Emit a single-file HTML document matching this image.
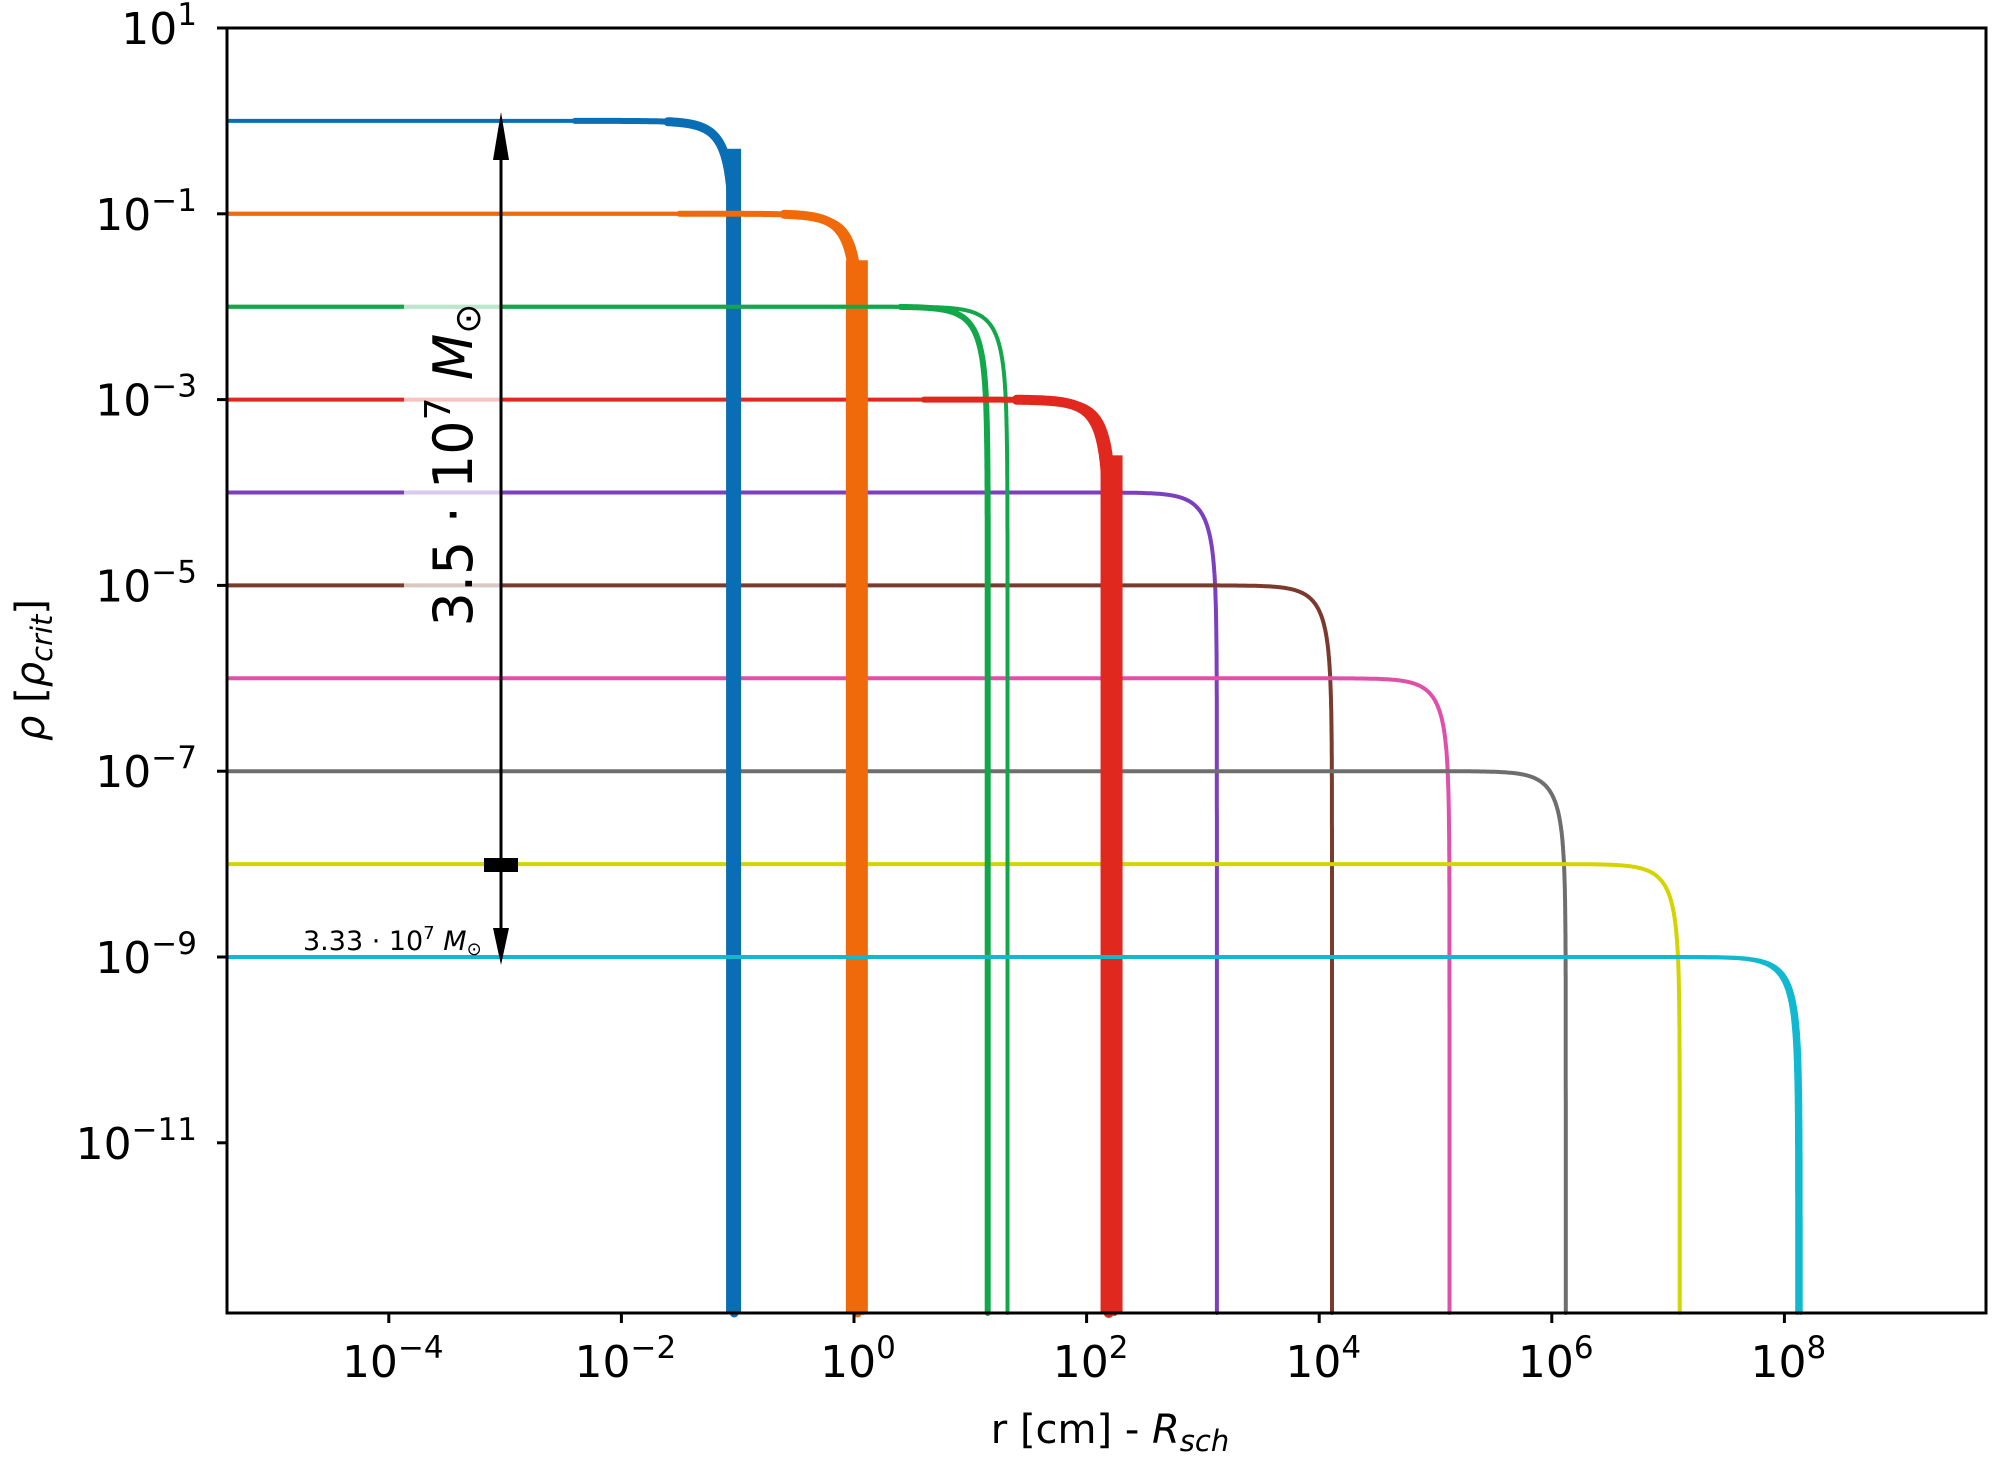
<!DOCTYPE html>
<html><head><meta charset="utf-8"><style>
html,body{margin:0;padding:0;background:#fff;}
svg{display:block;font-family:"DejaVu Sans","Liberation Sans",sans-serif;}
</style></head><body>
<svg id="s" width="1999" height="1459" viewBox="0 0 1999 1459" xmlns="http://www.w3.org/2000/svg">
<g id="curves"></g>
<rect x="404" y="300" width="96" height="350" fill="#fff" opacity="0.72"/>
<g id="axes"></g>
<line x1="501" y1="150" x2="501" y2="945" stroke="#000" stroke-width="3"/>
<polygon points="501,112 493,160 509,160" fill="#000"/>
<polygon points="501,965 493,928 509,928" fill="#000"/>
<rect x="484" y="858" width="34" height="14" fill="#000"/>
<text x="0" y="0" font-size="54" transform="translate(472,465) rotate(-90)" text-anchor="middle">3.5 · 10<tspan dy="-22" font-size="36">7</tspan><tspan dy="22" font-style="italic"> M</tspan><tspan font-size="36" dy="8">⊙</tspan></text>
<text x="303" y="950" font-size="27">3.33 · 10<tspan dy="-11" font-size="18">7</tspan><tspan dy="11" font-style="italic"> M</tspan><tspan font-size="18" dy="5">⊙</tspan></text>
<text x="1110" y="1443" font-size="40" text-anchor="middle">r [cm] - <tspan font-style="italic">R</tspan><tspan font-style="italic" font-size="29" dy="8">sch</tspan></text>
<text font-size="40" text-anchor="middle" transform="translate(44,670) rotate(-90)"><tspan font-style="italic">ρ</tspan> [<tspan font-style="italic">ρ</tspan><tspan font-style="italic" font-size="29" dy="8">crit</tspan><tspan dy="-8">]</tspan></text>
</svg>
<script>
var NS="http://www.w3.org/2000/svg";
function X(e){return 854+e*116.3;}
function Y(d){return 28+(1-d)*92.9;}
var L=227,R=1986,T=28,B=1313;
var E0=(L+1-854)/116.3;
var cg=document.getElementById('curves');
function el(n,a,p){var o=document.createElementNS(NS,n);for(var k in a)o.setAttribute(k,a[k]);(p||cg).appendChild(o);return o;}
function curve(d0,Re,col,w,p,es){
  var pts=[];var e0=(es===undefined)?E0:es;
  for(var i=0;i<=400;i++){var e=e0+(Re-e0)*(1-Math.pow(1-i/400,3));
    var f=1-Math.pow(10,(e-Re)*p);if(f<=1e-6)f=1e-6;
    var y=Y(d0+Math.log10(f));if(y>B)y=B;pts.push(X(e).toFixed(1)+","+y.toFixed(1));if(y>=B)break;}
  pts.push(X(Re).toFixed(1)+","+B);
  el('polyline',{points:pts.join(" "),fill:"none",stroke:col,"stroke-width":w,"stroke-linejoin":"round","stroke-linecap":"round"});
}
var C=[
 [0,-1.03,"#0a6eb4"],[-1,0.03,"#f06a0c"],[-2,1.15,"#12a84a"],[-3,2.19,"#e0281e"],
 [-4,3.12,"#7b3fbf"],[-5,4.11,"#7a3b2e"],[-6,5.12,"#e050a8"],[-7,6.12,"#6e6e6e"],
 [-8,7.10,"#d4d400"],[-9,8.11,"#10b8d0"]];
C.forEach(function(c){curve(c[0],c[1],c[2],4,3);});
// extras
curve(0,-1.03,"#0a6eb4",6,3,-2.4);curve(0,-1.03,"#0a6eb4",9,3,-1.6);
el('rect',{x:X(-1.1),y:Y(-0.3),width:15,height:B-Y(-0.3),fill:"#0a6eb4"});
curve(-1,0.08,"#f06a0c",4,3);curve(-1,0.03,"#f06a0c",6,3,-1.5);curve(-1,0.03,"#f06a0c",9,3,-0.6);
el('rect',{x:X(-0.07),y:Y(-1.5),width:22,height:B-Y(-1.5),fill:"#f06a0c"});
curve(-2,1.32,"#12a84a",4,3);curve(-2,1.15,"#12a84a",6,3,0.4);
curve(-3,2.24,"#e0281e",6,3,0.6);curve(-3,2.19,"#e0281e",10,3,1.4);
el('rect',{x:X(2.12),y:Y(-3.6),width:22,height:B-Y(-3.6),fill:"#e0281e"});
curve(-9,8.14,"#10b8d0",4,3);
// axes
var ag=document.getElementById('axes');
el('rect',{x:L,y:T,width:R-L,height:B-T,fill:"none",stroke:"#000","stroke-width":3},ag);
[1,-1,-3,-5,-7,-9,-11].forEach(function(d){var y=Y(d);
 el('line',{x1:L-10,y1:y,x2:L,y2:y,stroke:"#000","stroke-width":3},ag);
 var t=el('text',{x:L-30,y:y+16,"font-size":44,"text-anchor":"end"},ag);
 t.innerHTML='10<tspan dy="-19" font-size="31">'+(d<0?'\u2212'+(-d):d)+'</tspan>';});
[-4,-2,0,2,4,6,8].forEach(function(e){var x=X(e);
 el('line',{x1:x,y1:B,x2:x,y2:B+10,stroke:"#000","stroke-width":3},ag);
 var t=el('text',{x:x+4,y:B+64,"font-size":44,"text-anchor":"middle"},ag);
 t.innerHTML='10<tspan dy="-19" font-size="31">'+(e<0?'\u2212'+(-e):e)+'</tspan>';});
</script>
</body></html>
